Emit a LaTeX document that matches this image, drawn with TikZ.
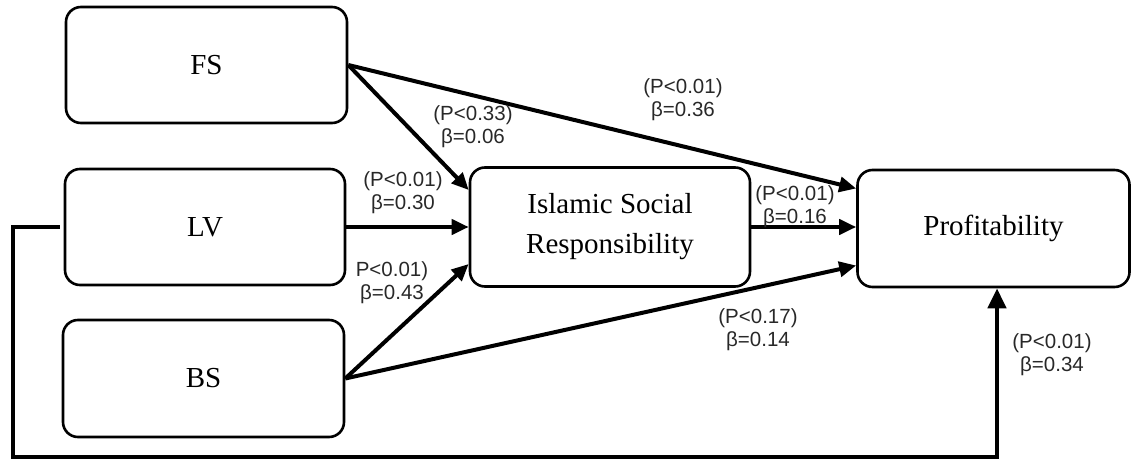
\documentclass[tikz,border=0pt]{standalone}
\usepackage{fontspec}
\setmainfont{Liberation Serif}
\newfontfamily\labelfont{Liberation Sans}
\usepackage{tikz}
\usetikzlibrary{arrows.meta, positioning, calc}
\definecolor{PathBlack}{RGB}{0, 0, 0}
\definecolor{LabelGray}{RGB}{40, 40, 40}

\tikzset{
  varbox/.style={draw=PathBlack, line width=2.6pt, rounded corners=15pt, align=center,
    font=\fontsize{29}{40}\selectfont, inner sep=0pt},
  effect/.style={draw=PathBlack, line width=4pt, -{Triangle[length=17pt,width=15pt]}},
  coef/.style={align=center, text=LabelGray, font=\labelfont\fontsize{20.5}{23}\selectfont, inner sep=0pt}
}

\begin{document}
\begin{tikzpicture}[x=1pt,y=1pt]
  \path[use as bounding box] (0,0) rectangle (1131,461);

  % Variable boxes
  \node[varbox, minimum width=281pt, minimum height=116pt] (FS) at (206.5,396) {FS};
  \node[varbox, minimum width=280pt, minimum height=116pt] (LV) at (205,234) {LV};
  \node[varbox, minimum width=281pt, minimum height=117pt] (BS) at (203.5,82.5) {BS};
  \node[varbox, minimum width=280pt, minimum height=119pt] (ISR) at (610,234)
    {Islamic Social\\Responsibility};
  \node[varbox, minimum width=272pt, minimum height=117pt] (Profit) at (993.5,232.5) {Profitability};

  % Paths to the mediator
  \draw[effect] (FS.east) -- ([yshift=37pt]ISR.west);
  \draw[effect] (LV.east) -- (ISR.west);
  \draw[effect] (BS.east) -- ([yshift=-37pt]ISR.west);

  % Paths to profitability
  \draw[effect] (FS.east) -- ([yshift=40pt]Profit.west);
  \draw[effect] (ISR.east) -- (ISR.east -| Profit.west);
  \draw[effect] (BS.east) -- ([yshift=-37pt]Profit.west);

  % Loop from LV round the bottom
  \coordinate (loopBL) at (13,4);
  \draw[effect, line width=4.5pt, -{Triangle[length=20pt,width=18pt]}]
    ([xshift=-4pt]LV.west) -| (loopBL) -| ([xshift=3.5pt]Profit.south);

  % Coefficients
  \node[coef] (cFSP) at (683,361) {(P<0.01)\\β=0.36};
  \node[coef] (cFSI) at (473,334) {(P<0.33)\\β=0.06};
  \node[coef] (cLVI) at (403,268) {(P<0.01)\\β=0.30};
  \node[coef] (cBSI) at (392,178) {P<0.01)\\β=0.43};
  \node[coef] (cISRP) at (795,254) {(P<0.01)\\β=0.16};
  \node[coef] (cBSP) at (758,131) {(P<0.17)\\β=0.14};
  \node[coef] (cLVP) at (1052,106) {(P<0.01)\\β=0.34};
\end{tikzpicture}
\end{document}
